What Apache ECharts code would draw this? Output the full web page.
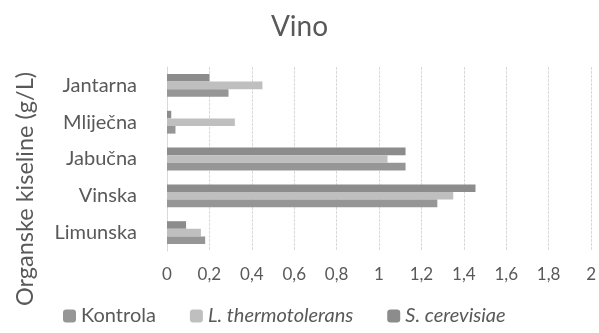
<!DOCTYPE html>
<html><head><meta charset="utf-8">
<script src="https://cdn.jsdelivr.net/npm/echarts@6/dist/echarts.min.js"></script>
<style>html,body{margin:0;padding:0;background:#fff}#c{width:599px;height:333px}</style>
</head><body><div id="c"></div>
<script>
const categories = ['Limunska', 'Vinska', 'Jabučna', 'Mliječna', 'Jantarna'];
const kontrola = [0.18, 1.275, 1.125, 0.04, 0.29];
const lThermo = [0.16, 1.35, 1.04, 0.32, 0.45];
const sCerev = [0.09, 1.455, 1.125, 0.02, 0.2];
const seriesNames = ['Kontrola', 'L. thermotolerans', 'S. cerevisiae'];
const xTicks = { min: 0, max: 2, interval: 0.2 };

const font = 'Lato, "Open Sans", sans-serif';
const txt = '#595959';
const chart = echarts.init(document.getElementById('c'));
const barCommon = { type: 'bar', barGap: '0%', barCategoryGap: '38%' };
chart.setOption({
  animation: false,
  title: { text: 'Vino', left: 'center', top: 8, textStyle: { fontFamily: font, fontSize: 28, fontWeight: 'normal', color: txt } },
  grid: { left: 167, right: 6, top: 67, bottom: 82, containLabel: false },
  xAxis: {
    type: 'value', min: xTicks.min, max: xTicks.max, interval: xTicks.interval,
    axisLine: { show: false }, axisTick: { show: false },
    axisLabel: { fontFamily: font, fontSize: 17, color: txt, margin: 15, formatter: v => String(+v.toFixed(1)).replace('.', ',') },
    splitLine: { show: true, lineStyle: { color: '#d9d9d9', type: [3, 1], width: 1 } }
  },
  yAxis: {
    type: 'category', data: categories,
    axisLine: { show: true, lineStyle: { color: '#d9d9d9' } }, axisTick: { show: false },
    axisLabel: { fontFamily: font, fontSize: 20, color: txt, margin: 30 }
  },
  legend: {
    bottom: 2, left: 58, itemWidth: 13, itemHeight: 13, itemGap: 34,
    textStyle: { fontFamily: font, fontSize: 20, color: txt, rich: { i: { fontStyle: 'italic', fontFamily: font, fontSize: 20, color: txt } } },
    formatter: n => n === 'Kontrola' ? n : '{i|' + n + '}',
    data: seriesNames
  },
  graphic: [{
    type: 'text', left: 13, top: 72, rotation: Math.PI / 2,
    style: { text: 'Organske kiseline (g/L)', fontFamily: font, fontSize: 23.5, fill: txt }
  }],
  series: [
    Object.assign({ name: seriesNames[2], data: sCerev, itemStyle: { color: '#8c8c8c' } }, barCommon),
    Object.assign({ name: seriesNames[1], data: lThermo, itemStyle: { color: '#bfbfbf' } }, barCommon),
    Object.assign({ name: seriesNames[0], data: kontrola, itemStyle: { color: '#969696' } }, barCommon)
  ]
});
</script></body></html>
